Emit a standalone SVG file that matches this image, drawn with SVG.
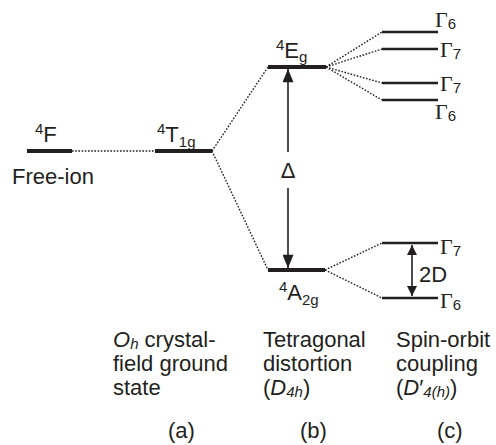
<svg xmlns="http://www.w3.org/2000/svg" width="496" height="445" viewBox="0 0 496 445">
<style>
.t{font-family:"Liberation Sans",Arial,sans-serif;font-size:22px;fill:#231f20}
.g{font-family:"Liberation Serif","Times New Roman",serif;font-size:22px;fill:#231f20}
.s{font-size:15px}
.sup{font-size:15px}
.lvl{stroke:#231f20;stroke-width:4;fill:none}
.gl{stroke:#231f20;stroke-width:2.6;fill:none}
.dot{stroke:#231f20;stroke-width:1.4;stroke-dasharray:1.6 1.6;fill:none}
.ar{stroke:#231f20;stroke-width:1.6;fill:none}
</style>
<defs>
<marker id="ah" viewBox="0 0 10 10" refX="10" refY="5" markerWidth="10" markerHeight="12" markerUnits="userSpaceOnUse" orient="auto-start-reverse">
<path d="M0,0 L10,5 L0,10 z" fill="#231f20"/>
</marker>
<marker id="ah2" viewBox="0 0 12 10" refX="12" refY="5" markerWidth="14" markerHeight="11" markerUnits="userSpaceOnUse" orient="auto-start-reverse">
<path d="M0,0 L12,5 L0,10 z" fill="#231f20"/>
</marker>
</defs>
<g id="connectors">
<line class="dot" x1="72" y1="151" x2="155" y2="151"/>
<line class="dot" x1="212" y1="151" x2="268" y2="67"/>
<line class="dot" x1="212" y1="151" x2="268" y2="270"/>
<line class="dot" x1="326" y1="67" x2="382" y2="32"/>
<line class="dot" x1="326" y1="67" x2="382" y2="49"/>
<line class="dot" x1="326" y1="67" x2="382" y2="83"/>
<line class="dot" x1="326" y1="67" x2="382" y2="100"/>
<line class="dot" x1="325" y1="270" x2="382" y2="243"/>
<line class="dot" x1="325" y1="270" x2="382" y2="298"/>
<line class="ar" x1="288" y1="152" x2="288" y2="69" marker-end="url(#ah2)"/>
<line class="ar" x1="288" y1="188" x2="288" y2="268" marker-end="url(#ah2)"/>
<line class="ar" x1="412" y1="245" x2="412" y2="296" marker-start="url(#ah)" marker-end="url(#ah)"/>
</g>
<g id="F">
<line class="lvl" x1="27" y1="151" x2="72" y2="151"/>
<text class="t" x="35" y="142"><tspan class="sup" dy="-8">4</tspan><tspan dy="8">F</tspan></text>
<text class="t" x="12" y="184">Free-ion</text>
</g>
<g id="T1g">
<line class="lvl" x1="155" y1="151" x2="212" y2="151"/>
<text class="t" x="157" y="142"><tspan class="sup" dy="-8">4</tspan><tspan dy="8">T</tspan><tspan class="s" dy="5">1g</tspan></text>
</g>
<g id="Eg">
<line class="lvl" x1="268" y1="67" x2="326" y2="67"/>
<text class="t" x="276" y="58"><tspan class="sup" dy="-8">4</tspan><tspan dy="8">E</tspan><tspan class="s" dy="4">g</tspan></text>
</g>
<g id="A2g">
<line class="lvl" x1="268" y1="270" x2="325" y2="270"/>
<text class="t" x="279" y="300"><tspan class="sup" dy="-8">4</tspan><tspan dy="8">A</tspan><tspan class="s" dy="5">2g</tspan></text>
</g>
<g id="delta">
<text class="t" x="288" y="178" text-anchor="middle">Δ</text>
</g>
<g id="G6a">
<line class="gl" x1="382" y1="32" x2="438" y2="32"/>
<text class="g" x="435" y="27">Γ<tspan class="t s" dy="2">6</tspan></text>
</g>
<g id="G7a">
<line class="gl" x1="382" y1="49" x2="438" y2="49"/>
<text class="g" x="440" y="57">Γ<tspan class="t s" dy="2">7</tspan></text>
</g>
<g id="G7b">
<line class="gl" x1="382" y1="83" x2="438" y2="83"/>
<text class="g" x="440" y="91">Γ<tspan class="t s" dy="2">7</tspan></text>
</g>
<g id="G6b">
<line class="gl" x1="382" y1="100" x2="438" y2="100"/>
<text class="g" x="435" y="119">Γ<tspan class="t s" dy="2">6</tspan></text>
</g>
<g id="G7c">
<line class="gl" x1="382" y1="243" x2="438" y2="243"/>
<text class="g" x="440" y="254">Γ<tspan class="t s" dy="2">7</tspan></text>
</g>
<g id="G6c">
<line class="gl" x1="382" y1="298" x2="438" y2="298"/>
<text class="g" x="440" y="308">Γ<tspan class="t s" dy="2">6</tspan></text>
</g>
<g id="twoD">
<text class="t" x="419" y="282">2D</text>
</g>
<g id="labelA">
<text class="t" x="113" y="347"><tspan font-style="italic">O</tspan><tspan class="s" font-style="italic" dy="2">h</tspan><tspan dy="-2"> crystal-</tspan></text>
<text class="t" x="113" y="371">field ground</text>
<text class="t" x="113" y="395">state</text>
<text class="t" x="168" y="438">(a)</text>
</g>
<g id="labelB">
<text class="t" x="263" y="347">Tetragonal</text>
<text class="t" x="263" y="371">distortion</text>
<text class="t" x="263" y="395">(<tspan font-style="italic">D</tspan><tspan class="s" font-style="italic" dy="2">4h</tspan><tspan dy="-2">)</tspan></text>
<text class="t" x="300" y="438">(b)</text>
</g>
<g id="labelC">
<text class="t" x="396" y="347">Spin-orbit</text>
<text class="t" x="396" y="371">coupling</text>
<text class="t" x="396" y="395">(<tspan font-style="italic">D</tspan>′<tspan class="s" font-style="italic" dy="2">4(h)</tspan><tspan dy="-2">)</tspan></text>
<text class="t" x="437" y="438">(c)</text>
</g>
</svg>
